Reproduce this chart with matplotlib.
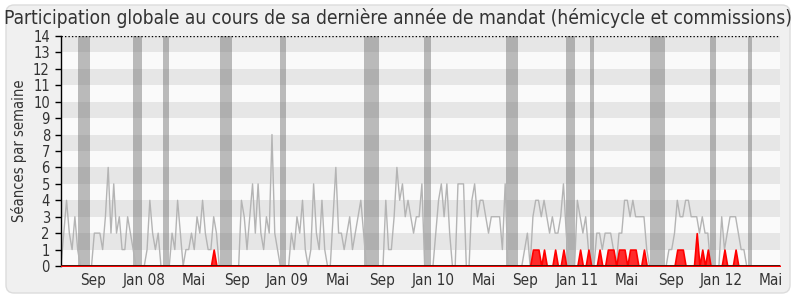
import numpy as np
import matplotlib
matplotlib.use("Agg")
import matplotlib.pyplot as plt
from matplotlib.patches import FancyBboxPatch
from matplotlib.transforms import IdentityTransform

# ---------------- data ----------------
title = "Participation globale au cours de sa dernière année de mandat (hémicycle et commissions)"
ylabel = "Séances par semaine"

# total sessions per week (grey line), week 0 .. 259
total_sessions = [
    0, 2, 4, 2, 1, 3, 1, 0, 0, 0,      # 0-9
    0, 0, 2, 2, 2, 1, 3, 6, 2, 5,      # 10-19
    2, 3, 1, 1, 3, 2, 1, 0, 0, 0,      # 20-29
    0, 1, 4, 2, 1, 2, 0, 0, 0, 0,      # 30-39
    2, 1, 4, 2, 0, 1, 1, 2, 1, 3,      # 40-49
    2, 4, 2, 1, 1, 3, 2, 0, 0, 0,      # 50-59
    0, 0, 0, 0, 0, 4, 3, 1, 3, 5,      # 60-69
    2, 5, 2, 1, 3, 2, 8, 2, 1, 0,      # 70-79
    0, 0, 0, 2, 1, 3, 2, 4, 1, 0,      # 80-89
    1, 5, 2, 1, 4, 1, 0, 0, 3, 6,      # 90-99
    2, 2, 1, 2, 3, 1, 2, 3, 4, 2,      # 100-109
    0, 0, 0, 0, 0, 0, 0, 4, 1, 1,      # 110-119
    3, 6, 4, 5, 3, 4, 3, 2, 3, 3,      # 120-129
    5, 0, 0, 0, 0, 2, 4, 5, 3, 5,      # 130-139
    2, 0, 0, 5, 5, 5, 0, 0, 4, 5,      # 140-149
    3, 4, 4, 3, 2, 3, 3, 3, 3, 1,      # 150-159
    5, 0, 0, 0, 0, 0, 0, 1, 2, 0,      # 160-169
    3, 4, 4, 3, 4, 3, 2, 3, 2, 2,      # 170-179
    3, 5, 2, 0, 0, 0, 4, 3, 2, 3,      # 180-189
    1, 0, 0, 2, 2, 1, 2, 2, 2, 1,      # 190-199
    0, 2, 2, 4, 4, 3, 4, 3, 3, 3,      # 200-209
    3, 1, 0, 0, 0, 0, 0, 0, 0, 1,      # 210-219
    1, 2, 4, 3, 3, 4, 4, 3, 3, 3,      # 220-229
    2, 3, 2, 2, 0, 0, 0, 0, 3, 1,      # 230-239
    2, 3, 3, 3, 2, 1, 1, 0, 0, 0,      # 240-249
    0, 0, 0, 0, 0, 0, 0, 0, 0, 0,      # 250-259
]

# deputy's own presences per week (red area): week -> value
presence_weeks = [55, 170, 171, 172, 174, 178, 181, 187, 190, 194,
                  197, 198, 199, 201, 202, 203, 205, 206, 207, 210,
                  222, 223, 224, 229, 231, 233, 239, 243]
presence_vals = [1, 1, 1, 1, 1, 1, 1, 1, 1, 1,
                 1, 1, 1, 1, 1, 1, 1, 1, 1, 1,
                 1, 1, 1, 2, 1, 1, 1, 1]

# parliamentary holidays (start week, end week)
holiday_start = [6.2, 25.8, 36.6, 57.3, 78.9, 109.1, 130.7, 160.2, 181.8, 190.4, 212.1, 233.7, 247.5]
holiday_end = [10.4, 29.1, 38.9, 61.5, 81.0, 114.6, 133.4, 164.6, 185.1, 192.0, 217.7, 236.1, 249.0]

tick_pos = [11.5, 30.1, 47.9, 63.6, 81.6, 99.8, 115.5, 134.2, 152.4, 167.3, 186.1, 203.9, 219.6, 237.9, 255.7]
tick_labels = ["Sep", "Jan 08", "Mai", "Sep", "Jan 09", "Mai", "Sep", "Jan 10",
               "Mai", "Sep", "Jan 11", "Mai", "Sep", "Jan 12", "Mai"]

# ---------------- figure ----------------
weeks = np.arange(len(total_sessions))
presence = np.zeros(len(total_sessions))
for w, v in zip(presence_weeks, presence_vals):
    presence[w] = v

FONT = dict(family="DejaVu Sans", stretch="condensed")

fig = plt.figure(figsize=(8, 3), dpi=100)
fig.patch.set_facecolor("white")
frame = FancyBboxPatch((6, 7), 784, 288, boxstyle="round,pad=0,rounding_size=8",
                       transform=IdentityTransform(), facecolor="#f0f0f0",
                       edgecolor="#dcdcdc", linewidth=1.0, zorder=-10)
fig.add_artist(frame)

ax = fig.add_axes([61 / 800, 34 / 300, 719 / 800, 230 / 300])
ax.set_zorder(1)
ax.set_facecolor("#fafafa")
ax.set_xlim(0, len(total_sessions) - 1)
ax.set_ylim(0, 14)

for k in range(1, 14, 2):
    ax.axhspan(k, k + 1, color="#e6e6e6", lw=0, zorder=0.5)

for s, e in zip(holiday_start, holiday_end):
    ax.axvspan(s, e, color="#6e6e6e", alpha=0.45, lw=0, zorder=1)

ax.plot(weeks, total_sessions, color="#b4b4b4", lw=1.0, zorder=2)
ax.fill_between(weeks, 0, presence, facecolor="#ff2a2a", edgecolor="#ff0000",
                lw=1.2, zorder=3)
ax.axhline(0, color="#3c140a", lw=1.3, zorder=4)
ax.axhline(14, color="black", ls=(0, (1, 1.5)), lw=1.0, zorder=4)

for sp in ["top", "right", "bottom"]:
    ax.spines[sp].set_visible(False)
ax.spines["left"].set_color("black")
ax.spines["left"].set_linewidth(1.0)

ax.set_yticks(range(0, 15))
ax.set_yticklabels([str(i) for i in range(0, 15)], fontsize=10.5, color="#333333", **FONT)
ax.tick_params(axis="y", length=4, width=1, pad=4, color="black")
ax.set_xticks(tick_pos)
ax.set_xticklabels(tick_labels, fontsize=11, color="#333333", **FONT)
ax.tick_params(axis="x", length=0, pad=5)

ax.set_ylabel(ylabel, fontsize=10.5, color="#333333", labelpad=4, **FONT)

fig.text(0.4975, 1 - 18 / 300, title, ha="center", va="center",
         fontsize=13.8, color="#333333", **FONT)

fig.savefig("out.png", dpi=100)
